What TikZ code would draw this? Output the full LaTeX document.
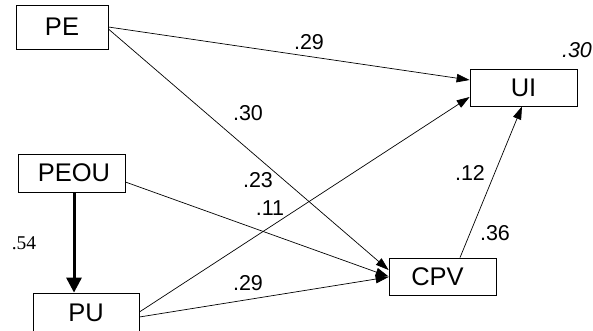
\documentclass[tikz,border=0pt]{standalone}
\usepackage{fontspec}
\setmainfont{Liberation Sans}
\newfontfamily\serifnum{Liberation Serif}
\usetikzlibrary{arrows.meta}

\begin{document}
\begin{tikzpicture}[x=1pt,y=-1pt,
  var/.style={draw,line width=0.8pt,inner sep=0pt,font=\fontsize{25.5}{28}\selectfont},
  path/.style={line width=0.7pt,-{Triangle[length=13pt,width=8.5pt]}},
  coef/.style={inner sep=0pt,font=\fontsize{21.5}{24}\selectfont}]
\useasboundingbox (0,0) rectangle (593,330);
\clip (0,0) rectangle (593,330);

\node[var,minimum width=92pt,minimum height=44pt] (PE) at (62,27) {PE};
\node[var,minimum width=107pt,minimum height=38pt] (PEOU) at (71.5,173) {\hspace*{5pt}PEOU};
\node[var,minimum width=106pt,minimum height=40pt] (PU) at (86,313) {PU};
\node[var,minimum width=107pt,minimum height=37pt] (UI) at (523.5,87.5) {UI};
\node[var,minimum width=107pt,minimum height=37pt] (CPV) at (442.5,276.5) {\hspace*{-10pt}CPV};

\draw[path] (PE.east) -- ([yshift=7.5pt]UI.west);
\draw[path] ([yshift=-2pt]PE.east) -- ([yshift=6.5pt]CPV.west);
\draw[path] ([yshift=-9pt]PEOU.east) -- (CPV.west);
\draw[path] ([yshift=1pt]PU.east) -- ([yshift=-9.5pt]UI.west);
\draw[path] ([yshift=-4pt]PU.east) -- ([yshift=-0.5pt]CPV.west);
\draw[path] ([xshift=17.5pt]CPV.north) -- ([xshift=-1.5pt]UI.south);
\draw[line width=3pt,-{Triangle[length=15pt,width=15pt]}] ([xshift=2.5pt]PEOU.south) -- ([xshift=2.5pt]PEOU.south |- PU.north);

\node[coef] (pe-ui) at (309,42) {.29};
\node[coef] (pe-cpv) at (248,113) {.30};
\node[coef] (peou-cpv) at (258,180) {.23};
\node[coef] (pu-ui) at (270,208) {.11};
\node[coef] (pu-cpv) at (248,283) {.29};
\node[coef] (cpv-ui) at (470,173) {.12};
\node[coef] (cpv-r2) at (495,233) {.36};
\node[coef,font=\fontsize{21.5}{24}\selectfont\itshape] (ui-r2) at (577,50) {.30};
\node[inner sep=0pt,font=\serifnum\fontsize{19.5}{22}\selectfont] (peou-pu) at (24,243) {.54};
\end{tikzpicture}
\end{document}
